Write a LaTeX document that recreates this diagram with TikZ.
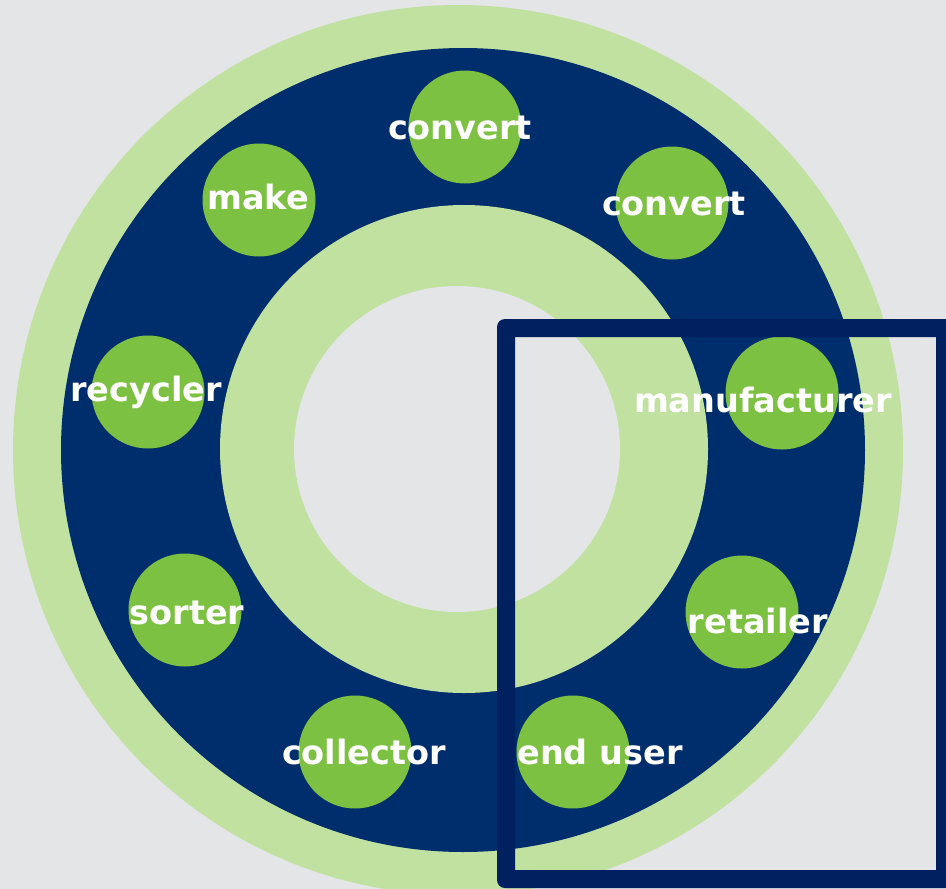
\documentclass[tikz,border=0pt]{standalone}
\usepackage{fontspec}
\setmainfont{DejaVu Sans}
\definecolor{bg}{RGB}{227,229,231}
\definecolor{lightgreen}{RGB}{192,225,160}
\definecolor{ringblue}{RGB}{0,45,107}
\definecolor{dotgreen}{RGB}{125,193,66}
\definecolor{framenavy}{RGB}{0,32,96}
\begin{document}
\begin{tikzpicture}[x=1pt,y=-1pt,
  stage/.style={circle,fill=dotgreen,minimum size=113pt,inner sep=0pt},
  lbl/.style={text=white,font=\bfseries\fontsize{33.5}{38}\selectfont,inner sep=0pt,anchor=center}]
\useasboundingbox (0,0) rectangle (946,889);
\clip (0,0) rectangle (946,889);
\fill[bg] (0,0) rectangle (946,889);
% rings
\fill[lightgreen] (458,450) circle[radius=445];
\fill[ringblue] (463,450) circle[radius=402];
\fill[lightgreen] (464,449) circle[radius=244];
\fill[bg] (457,449) circle[radius=163];
% stage circles
\node[stage] (c1) at (465,127) {};
\node[stage] (c2) at (259,200) {};
\node[stage] (c3) at (672,203) {};
\node[stage] (c4) at (148,392) {};
\node[stage] (c5) at (782,393) {};
\node[stage] (c6) at (185,610) {};
\node[stage] (c7) at (742,612) {};
\node[stage] (c8) at (355,752) {};
\node[stage] (c9) at (573,752) {};
% labels
\node[lbl] (t1) at (460,128) {convert};
\node[lbl] (t2) at (258,197) {make};
\node[lbl] (t3) at (674,204) {convert};
\node[lbl] (t4) at (146,392) {recycler};
\node[lbl] (t5) at (763,400) {manufacturer};
\node[lbl] (t6) at (187,613) {sorter};
\node[lbl] (t7) at (758,621) {retailer};
\node[lbl] (t8) at (364,752) {collector};
\node[lbl] (t9) at (600,752) {end user};
% frame
\fill[framenavy,even odd rule,rounded corners=8pt] (497,319) rectangle (956,888)
  [sharp corners] (515,337) rectangle (936,870);
\end{tikzpicture}
\end{document}
